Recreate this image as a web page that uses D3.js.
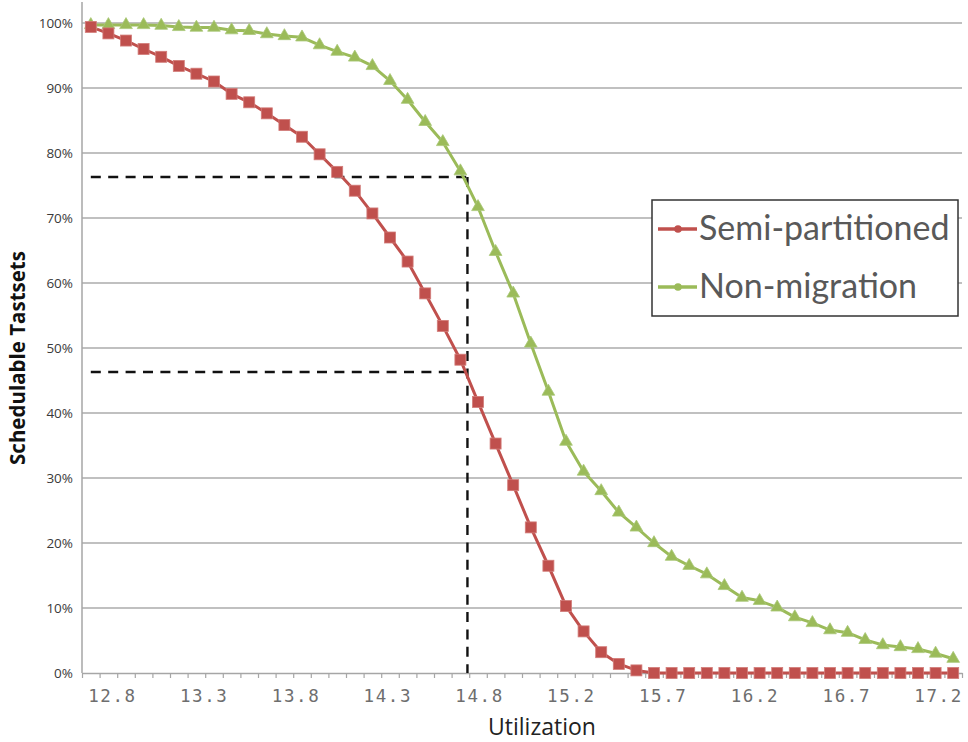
<!DOCTYPE html>
<html>
<head>
<meta charset="utf-8">
<script src="https://cdn.jsdelivr.net/npm/d3@7/dist/d3.min.js"></script>
<style>
  html, body { margin: 0; padding: 0; background: #fff; }
  svg { display: block; }
</style>
</head>
<body>
<svg id="chart" width="968" height="742"></svg>
<script>
// Schedulable task sets (%) per utilization step, 50 steps
const semiPartitioned = [
  99.4, 98.4, 97.3, 96.0, 94.8, 93.4, 92.2, 91.0, 89.1, 87.8,
  86.1, 84.3, 82.5, 79.8, 77.1, 74.2, 70.7, 67.0, 63.3, 58.4,
  53.4, 48.2, 41.7, 35.3, 28.9, 22.4, 16.5, 10.3, 6.4, 3.2,
  1.4, 0.4, 0, 0, 0, 0, 0, 0, 0, 0,
  0, 0, 0, 0, 0, 0, 0, 0, 0, 0
];
const nonMigration = [
  99.7, 99.7, 99.7, 99.7, 99.6, 99.4, 99.3, 99.3, 98.9, 98.8,
  98.3, 98.0, 97.8, 96.6, 95.6, 94.7, 93.4, 91.1, 88.2, 84.8,
  81.7, 77.2, 71.7, 64.8, 58.4, 50.7, 43.3, 35.6, 31.0, 28.0,
  24.7, 22.4, 20.0, 17.9, 16.5, 15.2, 13.4, 11.6, 11.1, 10.1,
  8.6, 7.7, 6.6, 6.2, 5.1, 4.3, 4.0, 3.7, 3.0, 2.2
];
const xTickLabels = ["12.8", "13.3", "13.8", "14.3", "14.8", "15.2", "15.7", "16.2", "16.7", "17.2"];
const yTicks = [0, 10, 20, 30, 40, 50, 60, 70, 80, 90, 100];
const seriesNames = ["Semi-partitioned", "Non-migration"];
// Guide lines: step position (fractional) and the two levels read at it
const guideStep = 21.4;
const guideLevels = [76.3, 46.3];

const colors = { semi: "#C0504D", non: "#9BBB59" };

const svg = d3.select("#chart");
const plot = { left: 82, right: 962, top: 23, bottom: 673 };
const nSteps = semiPartitioned.length;
const steps = d3.range(nSteps);

const x = d3.scaleBand().domain(steps).range([plot.left, plot.right]).padding(0);
const xc = i => x(i) + x.bandwidth() / 2;
// continuous version over step edges, for tick marks and guide lines
const xEdge = d3.scaleLinear().domain([0, nSteps]).range([plot.left, plot.right]);
const xLabel = d3.scalePoint().domain(xTickLabels).range([xEdge(1.7), xEdge(48.64)]);
const y = d3.scaleLinear().domain([0, 100]).range([plot.bottom, plot.top]);

// horizontal gridlines
svg.append("g")
  .selectAll("line")
  .data(yTicks.filter(d => d > 0))
  .join("line")
  .attr("x1", plot.left).attr("x2", plot.right)
  .attr("y1", d => y(d)).attr("y2", d => y(d))
  .attr("stroke", "#ababab").attr("stroke-width", 1.5);

// y axis
const yAxis = svg.append("g")
  .attr("transform", `translate(${plot.left},0)`)
  .call(d3.axisLeft(y).tickValues(yTicks).tickFormat(d => d + "%").tickSize(0).tickPadding(9));
yAxis.select(".domain").remove();
yAxis.selectAll("text")
  .attr("font-family", "'Open Sans', sans-serif")
  .attr("font-size", 13.5).attr("fill", "#3a3a3a");
svg.append("line")
  .attr("x1", plot.left).attr("x2", plot.left)
  .attr("y1", 2).attr("y2", plot.bottom)
  .attr("stroke", "#a6a6a6").attr("stroke-width", 1.5);

// x axis tick marks on step edges
const xAxis = svg.append("g")
  .attr("transform", `translate(0,${plot.bottom})`)
  .call(d3.axisBottom(xEdge).tickValues(d3.range(nSteps + 1)).tickFormat("").tickSize(5).tickSizeOuter(0));
xAxis.select(".domain").attr("stroke", "#a6a6a6").attr("stroke-width", 1.5);
xAxis.selectAll(".tick line").attr("stroke", "#a6a6a6").attr("stroke-width", 1.2);

// x tick labels
const xLab = svg.append("g")
  .attr("transform", `translate(0,${plot.bottom})`)
  .call(d3.axisBottom(xLabel).tickSize(0).tickPadding(17));
xLab.select(".domain").remove();
xLab.selectAll("text")
  .attr("font-family", "'DejaVu Sans Mono', monospace")
  .attr("font-size", 17.5).attr("letter-spacing", 1.6)
  .attr("fill", "#6e6e6e");

// guide lines
const guideX = xEdge(guideStep + 0.5);
const guides = svg.append("g")
  .attr("fill", "none").attr("stroke", "#111").attr("stroke-width", 2.4)
  .attr("stroke-dasharray", "10,7.4");
guideLevels.forEach(v => {
  guides.append("line")
    .attr("x1", xc(0)).attr("x2", guideX)
    .attr("y1", y(v)).attr("y2", y(v));
});
guides.append("line")
  .attr("x1", guideX).attr("x2", guideX)
  .attr("y1", y(d3.max(guideLevels))).attr("y2", plot.bottom);

// series lines
const line = d3.line().x((d, i) => xc(i)).y(d => y(d));
svg.append("path").datum(nonMigration)
  .attr("d", line).attr("fill", "none")
  .attr("stroke", colors.non).attr("stroke-width", 3).attr("stroke-linejoin", "round");
svg.append("path").datum(semiPartitioned)
  .attr("d", line).attr("fill", "none")
  .attr("stroke", colors.semi).attr("stroke-width", 3).attr("stroke-linejoin", "round");

// markers
const tri = d3.symbol().type(d3.symbolTriangle).size(70);
svg.append("g").selectAll("path")
  .data(nonMigration)
  .join("path")
  .attr("transform", (d, i) => `translate(${xc(i)},${y(d)})`)
  .attr("d", tri)
  .attr("fill", colors.non).attr("stroke", "#a9c878").attr("stroke-width", 0.8);

svg.append("g").selectAll("rect")
  .data(semiPartitioned)
  .join("rect")
  .attr("x", (d, i) => xc(i) - 5.5).attr("y", d => y(d) - 5.5)
  .attr("width", 11).attr("height", 11)
  .attr("fill", colors.semi).attr("stroke", "#d27c79").attr("stroke-width", 0.8);

// axis titles
svg.append("text")
  .attr("transform", `translate(25,358) rotate(-90)`)
  .attr("text-anchor", "middle")
  .attr("font-family", "'Open Sans', sans-serif")
  .attr("font-weight", "bold").attr("font-size", 20.5).attr("fill", "#111")
  .text("Schedulable Tastsets");

svg.append("text")
  .attr("x", 542).attr("y", 735)
  .attr("text-anchor", "middle")
  .attr("font-family", "'Open Sans', sans-serif")
  .attr("font-size", 23).attr("fill", "#222")
  .text("Utilization");

// legend
const legend = svg.append("g");
legend.append("rect")
  .attr("x", 652).attr("y", 200).attr("width", 306).attr("height", 116)
  .attr("fill", "#fff").attr("stroke", "#333").attr("stroke-width", 1.5);
const legendRows = [
  { name: seriesNames[0], color: colors.semi, cy: 229 },
  { name: seriesNames[1], color: colors.non, cy: 287 }
];
legendRows.forEach(r => {
  legend.append("line")
    .attr("x1", 658).attr("x2", 697).attr("y1", r.cy).attr("y2", r.cy)
    .attr("stroke", r.color).attr("stroke-width", 3.5);
  legend.append("circle")
    .attr("cx", 678).attr("cy", r.cy).attr("r", 3.8).attr("fill", r.color);
  legend.append("text")
    .attr("x", 699).attr("y", r.cy + 11)
    .attr("font-family", "Lato, sans-serif")
    .attr("font-size", 34).attr("fill", "#595959")
    .text(r.name);
});
</script>
</body>
</html>
